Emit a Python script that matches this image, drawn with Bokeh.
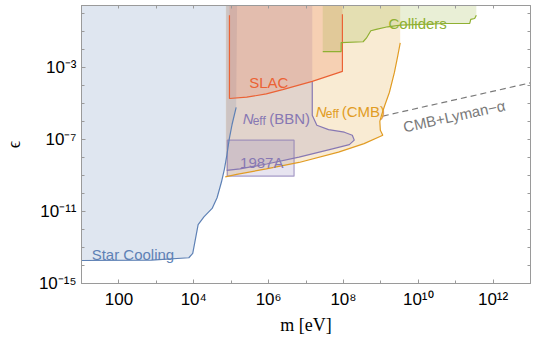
from bokeh.plotting import figure
from bokeh.models import LogAxis, FixedTicker, CustomJSTickFormatter
from bokeh.core.properties import value
from bokeh.embed import file_html
from bokeh.resources import INLINE

# ---------------- axis ranges and ticks ----------------
x_min, x_max = 1e1, 1e13
y_min, y_max = 1e-15, 2.9

x_major_ticks = [1e2, 1e4, 1e6, 1e8, 1e10, 1e12]
x_tick_labels = ["100", "10⁴", "10⁶", "10⁸", "10¹⁰", "10¹²"]
x_minor_ticks = [1e1, 1e3, 1e5, 1e7, 1e9, 1e11, 1e13]
x_all_decades = [10.0 ** k for k in range(1, 14)]

y_major_ticks = [1e-15, 1e-11, 1e-7, 1e-3]
y_tick_labels = ["10⁻¹⁵", "10⁻¹¹", "10⁻⁷", "10⁻³"]
y_minor_ticks = [1e-14, 1e-13, 1e-12, 1e-10, 1e-9, 1e-8, 1e-6, 1e-5, 1e-4, 1e-2, 1e-1, 1e0]
y_all_decades = [10.0 ** k for k in range(-15, 1)]

x_title = "m [eV]"
y_title = "ϵ"

# ---------------- data (m in eV, epsilon) ----------------
star_m = [1.0e1, 7.4e2, 7.4e3, 9.4e3, 1.31e4, 1.87e4, 3.1e4, 4.2e4, 5.5e4, 6.6e4, 7.6e4, 8.9e4, 1.06e5, 1.36e5]
star_eps = [1.9e-14, 2.0e-14, 2.7e-14, 4.8e-14, 1.9e-12, 5.1e-12, 1.5e-11, 5.9e-11, 4.4e-10, 2.3e-9, 1.2e-8, 1.1e-7, 7.2e-7, 6.2e-6]
star_top_m = 1.44e5

bbn_m = [1.47e7, 1.47e7, 1.95e7, 4.0e7, 1.06e8, 1.73e8, 1.95e8, 1.44e8, 4.8e7, 6.5e6, 8.9e5, 1.73e5, 7.6e4]
bbn_eps = [1.8e-4, 2.25e-6, 6.3e-7, 3.6e-7, 2.6e-7, 1.77e-7, 9.4e-8, 5.3e-8, 3.0e-8, 1.08e-8, 4.45e-9, 2.35e-9, 1.95e-9]
bbn_left_m = 7.4e4

cmb_m = [3.3e9, 2.8e9, 2.3e9, 1.69e9, 1.27e9, 1.06e9, 9.4e8, 9.7e8, 1.13e9, 3.57e8, 7.4e7, 6.5e6, 8.7e5, 1.41e5, 6.95e4]
cmb_eps = [2.4e-2, 4.0e-3, 5.3e-4, 4.2e-5, 8.0e-6, 2.55e-6, 1.05e-6, 3.3e-7, 1.77e-7, 6.0e-8, 2.04e-8, 5.4e-9, 2.35e-9, 1.17e-9, 8.5e-10]
cmb_left_m = 7.2e4

slac_m = [9.0e4, 9.0e4, 2.6e5, 8.7e5, 2.38e6, 1.47e7, 9.4e7, 9.4e7]
slac_eps = [0.84, 1.95e-5, 2.3e-5, 3.5e-5, 6.1e-5, 1.75e-4, 6.25e-4, 0.95]

col_m = [2.8e7, 8.7e7, 8.7e7, 3.36e8, 4.1e8, 5.4e8, 7.5e8, 1.53e9, 3.4e9, 5.2e10, 2.38e11, 2.53e11, 3.22e11, 3.57e11]
col_eps = [7.9e-3, 7.9e-3, 2.5e-2, 2.8e-2, 4.4e-2, 0.114, 0.136, 0.19, 0.235, 0.29, 0.29, 0.49, 0.55, 0.84]

sn_m = [7.9e4, 4.8e6]
sn_eps = [9.3e-10, 9.4e-8]

lyman_m = [1.13e9, 1e13]
lyman_eps = [2.06e-6, 1.45e-4]

# ---------------- colours ----------------
C_BLUE = "#5E81B5"
C_ORANGE = "#E19C24"
C_GREEN = "#8FB032"
C_RED = "#EB6235"
C_PURPLE = "#8778B3"
C_GRAY = "#7a7a7a"
FRAME = "#9a9a9a"
FILL_ALPHA = 0.2
LW = 1.2
SANS = "Liberation Sans"
SERIF = "Liberation Serif"

p = figure(width=532, height=337, x_axis_type="log", y_axis_type="log",
           x_range=(x_min, x_max), y_range=(y_min, y_max),
           output_backend="svg", toolbar_location=None,
           min_border_left=79, min_border_right=2, min_border_top=5, min_border_bottom=51)
p.grid.visible = False
p.outline_line_color = FRAME
p.background_fill_color = "white"
p.border_fill_color = "white"

fmt_code = """
let best = 0, bd = Infinity;
for (let i = 0; i < tvals.length; i++) {
  const d = Math.abs(Math.log10(tick) - Math.log10(tvals[i]));
  if (d < bd) { bd = d; best = i; }
}
return tlabels[best];
"""

def style_axis(ax, major, minor, labels):
    ax.ticker = FixedTicker(ticks=major, minor_ticks=minor)
    ax.formatter = CustomJSTickFormatter(args=dict(tvals=major, tlabels=labels), code=fmt_code)
    ax.axis_line_color = FRAME
    ax.major_tick_line_color = FRAME
    ax.minor_tick_line_color = FRAME
    ax.major_tick_in = 4
    ax.major_tick_out = 0
    ax.minor_tick_in = 3
    ax.minor_tick_out = 0
    ax.major_label_text_font = SANS
    ax.major_label_text_font_size = "17px"
    ax.major_label_text_color = "black"
    ax.axis_label_text_font = SERIF
    ax.axis_label_text_font_style = "normal"
    ax.axis_label_text_font_size = "18px"
    ax.axis_label_text_color = "black"

style_axis(p.xaxis[0], x_major_ticks, x_minor_ticks, x_tick_labels)
style_axis(p.yaxis[0], y_major_ticks, y_minor_ticks, y_tick_labels)
p.xaxis[0].axis_label = x_title
p.yaxis[0].axis_label = y_title
p.xaxis[0].major_label_standoff = 6
p.xaxis[0].axis_label_standoff = 3
p.yaxis[0].major_label_standoff = 5
p.yaxis[0].axis_label_standoff = 12

def mirror_axis(ax):
    ax.axis_line_color = FRAME
    ax.minor_tick_line_color = FRAME
    ax.major_tick_line_color = None
    ax.minor_tick_in = 3
    ax.minor_tick_out = 0
    ax.major_tick_in = 0
    ax.major_tick_out = 0
    ax.major_label_text_font_size = "0px"
    ax.major_label_standoff = 0

top_ax = LogAxis(ticker=FixedTicker(ticks=[], minor_ticks=x_all_decades))
mirror_axis(top_ax)
p.add_layout(top_ax, "above")
right_ax = LogAxis(ticker=FixedTicker(ticks=[], minor_ticks=y_all_decades))
mirror_axis(right_ax)
p.add_layout(right_ax, "right")

# ---------------- filled regions ----------------
p.patch(star_m + [star_top_m, x_min], star_eps + [y_max, y_max],
        fill_color=C_BLUE, fill_alpha=FILL_ALPHA, line_color=None)
p.patch(cmb_m + [cmb_left_m, cmb_left_m, cmb_m[0]], cmb_eps + [cmb_eps[-1], y_max, y_max],
        fill_color=C_ORANGE, fill_alpha=FILL_ALPHA, line_color=None)
p.patch(bbn_m + [bbn_left_m, bbn_left_m, bbn_m[0]], bbn_eps + [bbn_eps[-1], y_max, y_max],
        fill_color=C_PURPLE, fill_alpha=FILL_ALPHA, line_color=None)
p.quad(left=[sn_m[0]], right=[sn_m[1]], bottom=[sn_eps[0]], top=[sn_eps[1]],
       fill_color=C_PURPLE, fill_alpha=FILL_ALPHA, line_color=C_PURPLE, line_alpha=0.7, line_width=LW)
p.patch(slac_m + [slac_m[-1], slac_m[0]], slac_eps + [y_max, y_max],
        fill_color=C_RED, fill_alpha=FILL_ALPHA, line_color=None)
p.patch(col_m + [col_m[-1], col_m[0]], col_eps + [y_max, y_max],
        fill_color=C_GREEN, fill_alpha=FILL_ALPHA, line_color=None)

# ---------------- boundary lines ----------------
p.line(star_m, star_eps, line_color=C_BLUE, line_width=LW)
p.line(cmb_m, cmb_eps, line_color=C_ORANGE, line_width=LW)
p.line(bbn_m, bbn_eps, line_color=C_PURPLE, line_width=LW)
p.line(slac_m, slac_eps, line_color=C_RED, line_width=LW)
p.line(col_m, col_eps, line_color=C_GREEN, line_width=LW)
p.line(lyman_m, lyman_eps, line_color=C_GRAY, line_width=LW, line_dash="6 4")

# ---------------- region labels ----------------
def lab(x, y, t, color, size="15px", style="normal", xo=0, yo=0, angle=0.0, align="left", baseline="alphabetic"):
    p.text(x=[x], y=[y], text=[t], text_color=color, text_font=value(SANS),
           text_font_size=size, text_font_style=style, x_offset=xo, y_offset=yo,
           angle=angle, text_align=align, text_baseline=baseline)

lab(18.7, 4.2e-14, "Star Cooling", C_BLUE)
lab(3.03e5, 1.43e-4, "SLAC", C_RED)
lab(1.6e9, 0.29, "Colliders", C_GREEN)
lab(1.73e5, 5.5e-9, "1987A", C_PURPLE)
lab(2.03e5, 1.53e-6, "N", C_PURPLE, style="italic")
lab(2.03e5, 1.53e-6, "eff", C_PURPLE, size="12px", xo=10, yo=3)
lab(2.03e5, 1.53e-6, "(BBN)", C_PURPLE, xo=26.5)
lab(1.82e7, 3.88e-6, "N", C_ORANGE, style="italic")
lab(1.82e7, 3.88e-6, "eff", C_ORANGE, size="12px", xo=10, yo=3)
lab(1.82e7, 3.88e-6, "(CMB)", C_ORANGE, xo=26)
lab(9.14e10, 2.06e-6, "CMB+Lyman−α", C_GRAY, angle=0.215, align="center", baseline="middle")

open("out.html", "w").write(file_html(p, INLINE))
